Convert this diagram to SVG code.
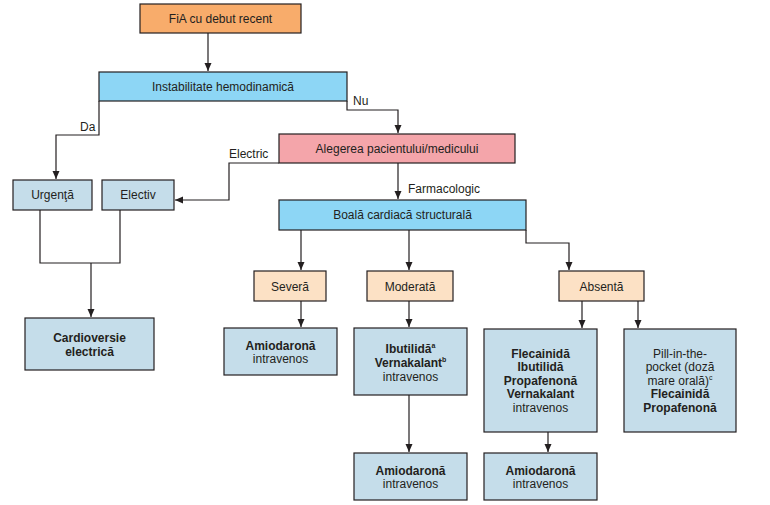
<svg xmlns="http://www.w3.org/2000/svg" width="770" height="505" viewBox="0 0 770 505">
<style>
  .box { stroke: #231f20; stroke-width: 1.2; }
  .orange { fill: #f8ac6b; }
  .blue { fill: #8dd6f5; }
  .pink { fill: #f4a5aa; }
  .peach { fill: #fce1c5; }
  .pale { fill: #c5ddea; }
  text { font-family: "Liberation Sans", Arial, sans-serif; font-size: 12px; fill: #231f20; }
  .c { text-anchor: middle; }
  .b { font-weight: bold; }
  .sup { font-size: 7px; }
  .conn path { fill: none; stroke: #231f20; stroke-width: 1.2; }
</style>
<defs>
  <marker id="arr" markerUnits="userSpaceOnUse" markerWidth="9" markerHeight="8" refX="8" refY="4" orient="auto">
    <path d="M0,0.5 L8,4 L0,7.5 z" fill="#231f20"/>
  </marker>
</defs>
<rect width="770" height="505" fill="#ffffff"/>

<g class="conn" id="connectors">
  <path d="M208,33 V71" marker-end="url(#arr)"/>
  <path d="M347,101 V110 H398 V133" marker-end="url(#arr)"/>
  <path d="M99,101 V135 H56 V179" marker-end="url(#arr)"/>
  <path d="M279,163 H229 V200 H175" marker-end="url(#arr)"/>
  <path d="M398,163 V199" marker-end="url(#arr)"/>
  <path d="M40,210 V263 H120 V210"/>
  <path d="M91,263 V317" marker-end="url(#arr)"/>
  <path d="M301,230 V270" marker-end="url(#arr)"/>
  <path d="M409,230 V270" marker-end="url(#arr)"/>
  <path d="M526,230 V243 H569 V270" marker-end="url(#arr)"/>
  <path d="M301,301 V327" marker-end="url(#arr)"/>
  <path d="M409,301 V327" marker-end="url(#arr)"/>
  <path d="M409,395 V452" marker-end="url(#arr)"/>
  <path d="M582,301 V328" marker-end="url(#arr)"/>
  <path d="M638,301 V328" marker-end="url(#arr)"/>
  <path d="M548,432 V452" marker-end="url(#arr)"/>
  <text x="353" y="105">Nu</text>
  <text x="80" y="131">Da</text>
  <text x="229" y="158">Electric</text>
  <text x="408" y="193">Farmacologic</text>
</g>

<g id="fia">
  <rect class="box orange" x="140" y="4" width="161" height="29"/>
  <text class="c" x="220.5" y="23">FiA cu debut recent</text>
</g>
<g id="instabilitate">
  <rect class="box blue" x="99" y="72" width="248" height="29"/>
  <text class="c" x="223" y="91">Instabilitate hemodinamică</text>
</g>
<g id="alegerea">
  <rect class="box pink" x="279" y="134" width="236" height="29"/>
  <text class="c" x="397" y="153">Alegerea pacientului/medicului</text>
</g>
<g id="urgenta">
  <rect class="box pale" x="13" y="180" width="79" height="30"/>
  <text class="c" x="52.5" y="199">Urgenţă</text>
</g>
<g id="electiv">
  <rect class="box pale" x="102" y="180" width="72" height="30"/>
  <text class="c" x="138" y="199">Electiv</text>
</g>
<g id="boala">
  <rect class="box blue" x="279" y="200" width="247" height="30"/>
  <text class="c" x="402.5" y="219">Boală cardiacă structurală</text>
</g>
<g id="cardioversie">
  <rect class="box pale" x="25" y="318" width="129" height="52"/>
  <text class="c b" x="89.5" y="341.5">Cardioversie</text>
  <text class="c b" x="89.5" y="355.5">electrică</text>
</g>
<g id="severa">
  <rect class="box peach" x="254" y="271" width="72" height="30"/>
  <text class="c" x="290" y="291">Severă</text>
</g>
<g id="moderata">
  <rect class="box peach" x="367" y="271" width="86" height="30"/>
  <text class="c" x="410" y="291">Moderată</text>
</g>
<g id="absenta">
  <rect class="box peach" x="559" y="271" width="85" height="30"/>
  <text class="c" x="601.5" y="291">Absentă</text>
</g>
<g id="amiodarona1">
  <rect class="box pale" x="224" y="328" width="113" height="47"/>
  <text class="c b" x="280.5" y="349.5">Amiodaronă</text>
  <text class="c" x="280.5" y="363">intravenos</text>
</g>
<g id="ibutilida">
  <rect class="box pale" x="354" y="328" width="113" height="67"/>
  <text class="c b" x="410.5" y="352.5">Ibutilidă<tspan class="sup" dy="-5">a</tspan></text>
  <text class="c b" x="410.5" y="366.5">Vernakalant<tspan class="sup" dy="-5">b</tspan></text>
  <text class="c" x="410.5" y="380.5">intravenos</text>
</g>
<g id="amiodarona2">
  <rect class="box pale" x="354" y="453" width="113" height="47"/>
  <text class="c b" x="410.5" y="474.5">Amiodaronă</text>
  <text class="c" x="410.5" y="488">intravenos</text>
</g>
<g id="flecainida">
  <rect class="box pale" x="484" y="329" width="113" height="103"/>
  <text class="c b" x="540.5" y="357.5">Flecainidă</text>
  <text class="c b" x="540.5" y="371">Ibutilidă</text>
  <text class="c b" x="540.5" y="384.5">Propafenonă</text>
  <text class="c b" x="540.5" y="398">Vernakalant</text>
  <text class="c" x="540.5" y="411.5">intravenos</text>
</g>
<g id="amiodarona3">
  <rect class="box pale" x="484" y="453" width="113" height="47"/>
  <text class="c b" x="540.5" y="474.5">Amiodaronă</text>
  <text class="c" x="540.5" y="488">intravenos</text>
</g>
<g id="pill">
  <rect class="box pale" x="624" y="329" width="112" height="103"/>
  <text class="c" x="680" y="357.5">Pill-in-the-</text>
  <text class="c" x="680" y="371">pocket (doză</text>
  <text class="c" x="680" y="384.5">mare orală)<tspan class="sup" dy="-5">c</tspan></text>
  <text class="c b" x="680" y="398">Flecainidă</text>
  <text class="c b" x="680" y="411.5">Propafenonă</text>
</g>
</svg>
